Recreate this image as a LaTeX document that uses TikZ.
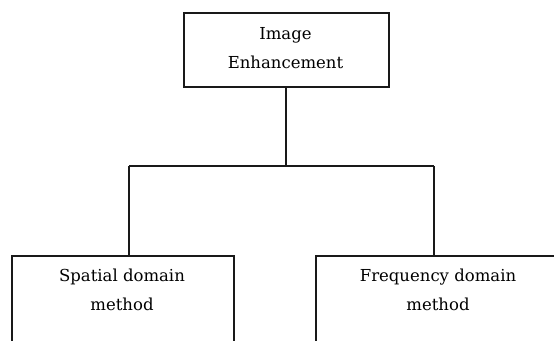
\documentclass[tikz,border=0pt]{standalone}
\usepackage{fontspec}
\setmainfont{DejaVu Serif}
\usetikzlibrary{calc}
\begin{document}
\begin{tikzpicture}[x=1pt,y=-1pt,
  box/.style={draw=black!90, line width=1.8pt, rectangle, inner sep=0pt},
  lbl/.style={font=\fontsize{16.5}{29}\selectfont, align=center, inner sep=0pt, text=black},
  conn/.style={draw=black!90, line width=1.5pt}]
\useasboundingbox (0,0) rectangle (554,340);
\clip (0,0) rectangle (554,340);
\fill[white] (0,0) rectangle (554,340);
\node[box, anchor=north west, minimum width=205pt, minimum height=74pt] (top) at (183,12) {};
\node[lbl, anchor=north] (toplbl) at (285.5,27) {Image\\Enhancement};
\node[box, anchor=north west, minimum width=222pt, minimum height=110pt] (sp) at (11,255) {};
\node[lbl, anchor=north] (splbl) at (122,269) {Spatial domain\\method};
\node[box, anchor=north west, minimum width=246pt, minimum height=110pt] (fq) at (315,255) {};
\node[lbl, anchor=north] (fqlbl) at (438,269) {Frequency domain\\method};
\coordinate (j) at (286,166);
\coordinate (jl) at (129,166);
\coordinate (jr) at (434,166);
\draw[conn] (top.south -| j) -- (j);
\draw[conn] (jl) -- (jr);
\draw[conn] (jl) -- (jl |- sp.north);
\draw[conn] (jr) -- (jr |- fq.north);
\end{tikzpicture}
\end{document}
